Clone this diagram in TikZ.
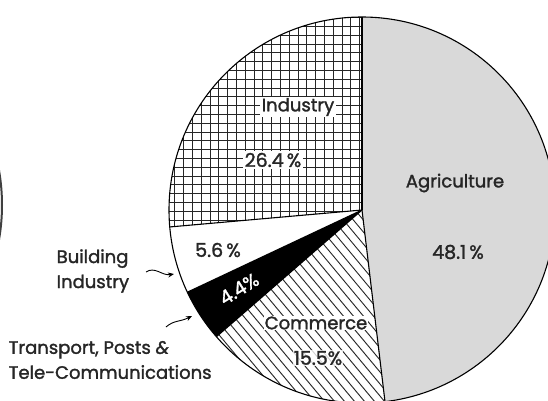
\documentclass[tikz,border=0pt]{standalone}
\usepackage{fontspec}
\setmainfont{Poppins}
\newfontfamily\lblfont{Poppins}[FakeBold=1.6]
\usetikzlibrary{arrows.meta}
\begin{document}
\begin{tikzpicture}[x=1pt,y=1pt,
  lbl/.style={font=\lblfont\fontsize{18}{25}\selectfont, text=black!85, inner sep=1.5pt},
  pct/.style={font=\lblfont\fontsize{19}{22}\selectfont, text=black!85, inner sep=1.5pt},
  whitebox/.style={fill=white},
  edge/.style={line width=1.1pt, draw=black},
  hatch/.style={line width=0.9pt, black!85},
  pointer/.style={line width=0.9pt, -{Stealth[length=6pt,width=5pt]}}]
\useasboundingbox (0,0) rectangle (548,400);
\fill[white] (0,0) rectangle (548,400);
\def\R{193}
\coordinate (C) at (362,190);
% Agriculture
\fill[gray!30] (C) -- ++(90:\R) arc[start angle=90, end angle=-83.16, radius=\R] -- cycle;
% Commerce hatch
\begin{scope}
\clip (C) -- ++(-83.16:\R) arc[start angle=-83.16, end angle=-138.96, radius=\R] -- cycle;
\foreach \i in {-40,...,40} {
  \draw[hatch] (150+\i*10,400) -- ++(400,-480);
}
\end{scope}
% Transport
\fill[black] (C) -- ++(-138.96:\R) arc[start angle=-138.96, end angle=-154.8, radius=\R] -- cycle;
% Industry grid
\begin{scope}
\clip (C) -- ++(-174.96:\R) arc[start angle=-174.96, end angle=-270, radius=\R] -- cycle;
\foreach \i in {0,...,24} {
  \draw[hatch] (166+\i*8.8,0) -- ++(0,400);
  \draw[hatch] (150,180+\i*8.8) -- ++(300,0);
}
\end{scope}
% boundaries
\draw[edge] (C) circle[radius=\R];
\draw[edge] (C) -- ++(90:\R);
\draw[edge] (C) -- ++(-83.16:\R);
\draw[edge] (C) -- ++(-138.96:\R);
\draw[edge] (C) -- ++(-154.8:\R);
\draw[edge] (C) -- ++(-174.96:\R);
% left partial circle
\draw[line width=2pt, black!75] (-200,195) ++(-10:202) arc[start angle=-10, end angle=10, radius=202];
% labels
\node[lbl, whitebox] (indl) at (298,293) {Industry};
\node[pct, whitebox] (indp) at (273,240) {26.4\,\%};
\node[lbl] (agrl) at (455,217) {Agriculture};
\node[pct] (agrp) at (458,148) {48.1\,\%};
\node[pct] (bldp) at (218,150) {5.6\,\%};
\node[pct, text=white, rotate=32, inner sep=0pt] (trap) at (239,111) {4.4\%};
\node[lbl, whitebox, inner sep=1pt] (coml) at (316,77) {Commerce};
\node[pct, whitebox, fill opacity=0.8, text opacity=1, inner sep=1pt] (comp) at (318,42) {15.5\%};
\node[lbl, align=left, anchor=west] (bldl) at (55,129) {Building\\Industry};
\node[lbl, align=left, anchor=west] (tral) at (7,40) {Transport, Posts \textit{\&}\\Tele-Communications};
% pointers
\coordinate (b1) at (146,128);
\coordinate (b2) at (174,126);
\coordinate (t1) at (166,73);
\coordinate (t2) at (192,84);
\draw[pointer] (b1) .. controls (155,134) and (162,124) .. (b2);
\draw[pointer] (t1) .. controls (174,80) and (180,78) .. (t2);
\end{tikzpicture}
\end{document}
